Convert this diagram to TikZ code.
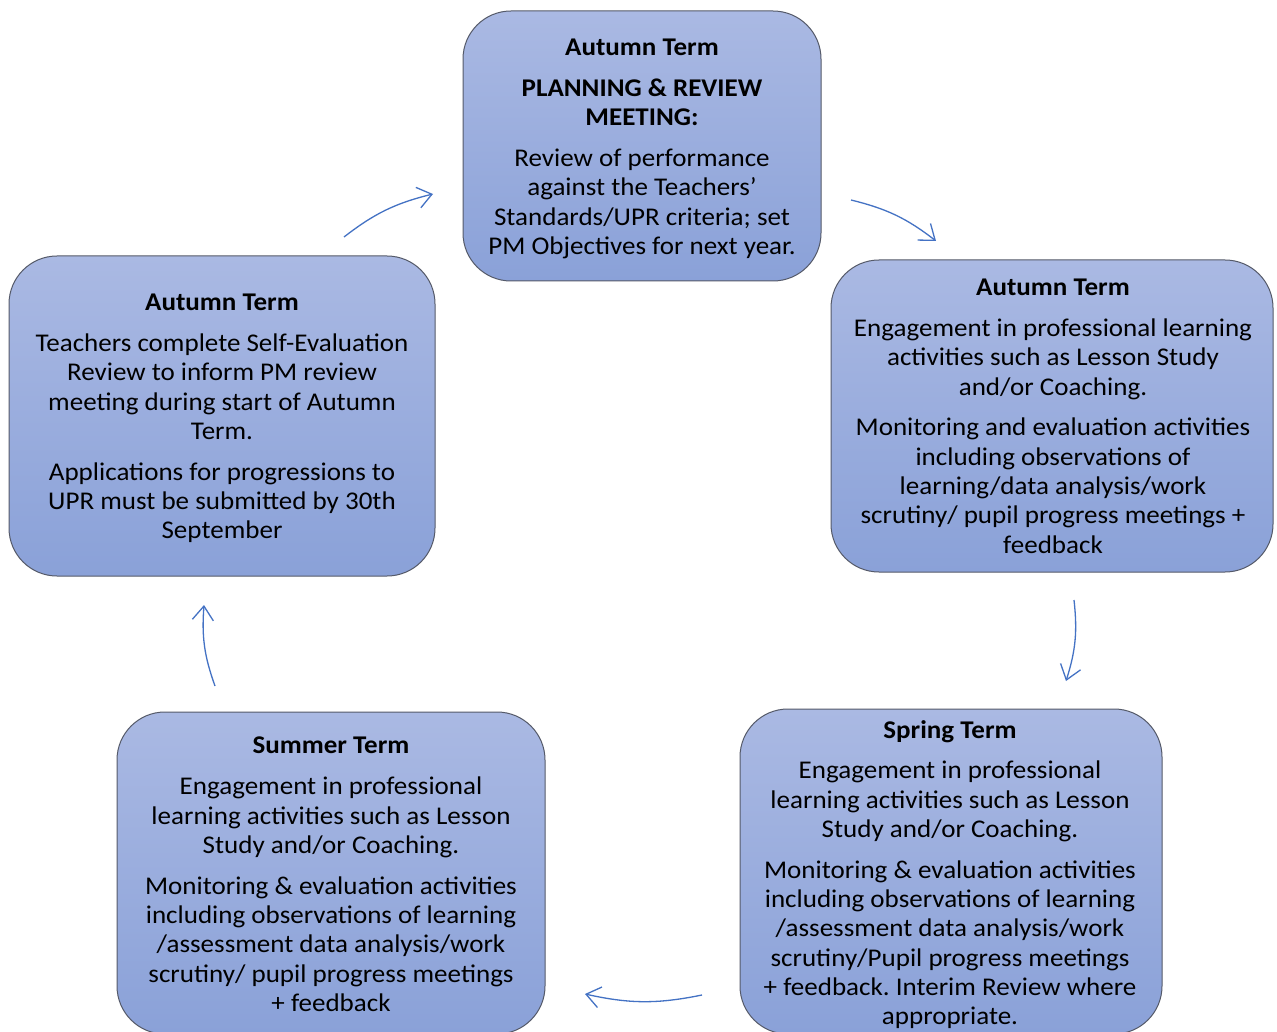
\documentclass[tikz,border=0pt]{standalone}
\usepackage{fontspec}
\setmainfont{Carlito}[FakeStretch=1.06]
\usetikzlibrary{arrows.meta}
\definecolor{boxtop}{RGB}{170,185,227}
\definecolor{boxbot}{RGB}{138,161,216}
\definecolor{boxline}{RGB}{85,90,105}
\definecolor{arr}{RGB}{68,114,196}
\frenchspacing
\begin{document}
\begin{tikzpicture}[x=1pt,y=1pt,
  box/.style={draw=boxline, line width=1pt, rounded corners=48pt, top color=boxtop, bottom color=boxbot, inner sep=0pt},
  txt/.style={align=center, inner sep=0pt, anchor=north, font=\fontsize{25.5}{29.3}\selectfont},
  cyc/.style={draw=arr, line width=1.3pt, -{Straight Barb[length=14pt,width=21pt,line width=1.3pt]}, bend left=12}]
\useasboundingbox (0,0) rectangle (1277,-1032);
\fill[white] (0,0) rectangle (1277,-1032);
% boxes
\node[box, minimum width=358pt, minimum height=270pt] (top) at (642,-146) {};
\node[box, minimum width=442pt, minimum height=312pt] (right) at (1052,-416) {};
\node[box, minimum width=426pt, minimum height=320pt] (left) at (222,-416) {};
\node[box, minimum width=422pt, minimum height=325pt] (spring) at (951,-871.5) {};
\node[box, minimum width=428pt, minimum height=322pt] (summer) at (331,-873) {};
% texts
\node[txt] (ttop) at (642,-39) {\textbf{Autumn Term}\\[11.5pt]\textbf{PLANNING \& REVIEW}\\\textbf{MEETING:}\\[11.5pt]Review of performance\\against the Teachers’\\Standards/UPR criteria; set\\PM Objectives for next year.};
\node[txt] (tright) at (1053,-279) {\textbf{Autumn Term}\\[11.5pt]Engagement in professional learning\\activities such as Lesson Study\\and/or Coaching.\\[11.5pt]Monitoring and evaluation activities\\including observations of\\learning/data analysis/work\\scrutiny/ pupil progress meetings +\\feedback};
\node[txt] (tleft) at (222,-294) {\textbf{Autumn Term}\\[11.5pt]Teachers complete Self-Evaluation\\Review to inform PM review\\meeting during start of Autumn\\Term.\\[11.5pt]Applications for progressions to\\UPR must be submitted by 30th\\September};
\node[txt] (tspring) at (950,-720) {\textbf{Spring Term}\\[11.5pt]Engagement in professional\\learning activities such as Lesson\\Study and/or Coaching.\\[11.5pt]Monitoring \& evaluation activities\\including observations of learning\\/assessment data analysis/work\\scrutiny/Pupil progress meetings\\+ feedback. Interim Review where\\appropriate.};
\node[txt] (tsummer) at (331,-737) {\textbf{Summer Term}\\[11.5pt]Engagement in professional\\learning activities such as Lesson\\Study and/or Coaching.\\[11.5pt]Monitoring \& evaluation activities\\including observations of learning\\/assessment data analysis/work\\scrutiny/ pupil progress meetings\\+ feedback};
% arrow endpoints
\coordinate (a1s) at (344,-237); \coordinate (a1e) at (433,-194);
\coordinate (a2s) at (851,-200); \coordinate (a2e) at (936,-241);
\coordinate (a3s) at (1074,-600); \coordinate (a3e) at (1066,-681);
\coordinate (a4s) at (702,-995); \coordinate (a4e) at (585,-994);
\coordinate (a5s) at (215,-686); \coordinate (a5e) at (204,-605);
\draw[cyc] (a1s) to (a1e);
\draw[cyc] (a2s) to (a2e);
\draw[cyc] (a3s) to (a3e);
\draw[cyc] (a4s) to (a4e);
\draw[cyc] (a5s) to (a5e);
\end{tikzpicture}
\end{document}
